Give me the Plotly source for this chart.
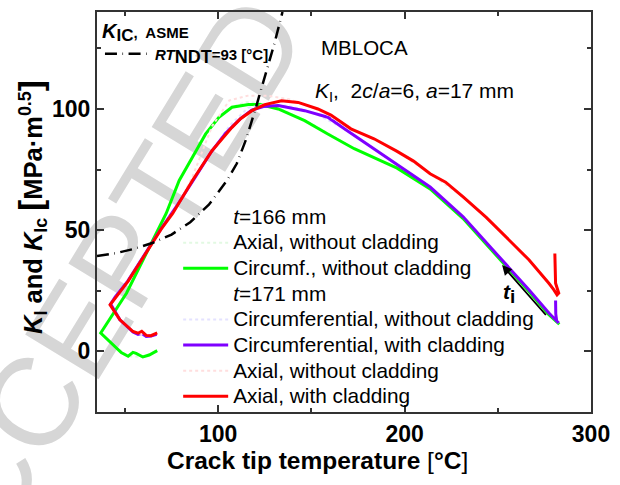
import plotly.graph_objects as go

# Crack tip temperature [°C] and stress intensity K_I [MPa·m^0.5] along each transient path
circ_wo_166_T = [283.0, 277.4, 266.8, 249.1, 231.4, 213.7, 196.0, 188.9, 173.0, 158.8, 146.4, 132.2,
                 122.5, 116.3, 107.4, 100.4, 93.3, 86.2, 79.1, 72.1, 63.2, 50.8, 37.0,
                 43.7, 48.0, 51.7, 54.3, 56.0, 59.6, 63.0, 67.3]
circ_wo_166_K = [11.2, 15.1, 24.6, 39.7, 54.8, 67.0, 75.6, 78.1, 83.6, 89.7, 95.2, 100.0,
                 101.8, 101.8, 100.7, 96.6, 89.7, 80.1, 70.5, 56.9, 43.1, 24.0, 7.6,
                 2.7, -0.5, -2.0, -0.4, -0.8, -2.3, -1.5, 0.3]

axial_wo_166_T = [283.0, 266.8, 249.1, 231.4, 213.7, 196.0, 173.0, 150.0, 132.0, 122.5, 115.0, 108.0,
                  100.4, 93.3, 86.2, 79.1, 72.1, 63.2, 50.8, 37.0, 43.7, 51.7, 59.6, 67.3]
axial_wo_166_K = [11.2, 24.6, 39.7, 54.8, 67.0, 75.6, 83.6, 94.0, 100.6, 102.6, 102.8, 101.0,
                  96.6, 89.7, 80.1, 70.5, 56.9, 43.1, 24.0, 7.6, 2.7, -2.0, -2.3, 0.3]

circ_wo_171_T = [282.7, 266.8, 249.1, 231.4, 213.7, 196.0, 181.8, 167.7, 152.0, 138.0, 126.0, 116.0,
                 106.0, 96.0, 87.0, 78.2, 69.2, 60.3, 51.5, 44.8, 42.3, 47.3, 54.3, 61.4, 67.0]
circ_wo_171_K = [11.7, 25.3, 40.4, 55.5, 67.8, 77.0, 84.2, 91.8, 98.2, 101.2, 102.0, 100.5,
                 93.0, 82.0, 71.0, 60.5, 50.4, 39.7, 29.0, 22.5, 19.5, 13.0, 8.0, 6.2, 7.0]

circ_w_171_T = [281.0, 281.1, 281.6, 282.7, 277.4, 266.8, 249.1, 231.4, 213.7, 196.0, 181.8, 167.7,
                158.8, 146.4, 132.2, 124.3, 118.0, 112.0, 104.0, 96.0, 87.0, 78.2, 69.2, 60.3,
                51.5, 44.8, 42.3, 47.3, 54.3, 57.0, 59.0, 61.4, 64.0, 67.0]
circ_w_171_K = [21.0, 15.5, 12.5, 11.7, 15.8, 25.3, 40.4, 55.5, 67.8, 77.0, 84.2, 91.8,
                96.6, 99.3, 101.4, 101.0, 99.5, 96.0, 90.0, 82.0, 71.0, 60.5, 50.4, 39.7,
                29.0, 22.5, 19.5, 13.0, 8.0, 7.0, 7.5, 6.2, 6.3, 7.0]

axial_wo_171_T = [282.5, 266.8, 249.1, 231.4, 213.7, 196.0, 183.6, 171.2, 153.5, 138.0, 126.0, 116.0,
                  106.0, 96.8, 86.2, 78.4, 69.4, 60.5, 51.7, 45.0, 42.0, 47.3, 54.3, 61.4, 67.3]
axial_wo_171_K = [23.5, 37.7, 51.4, 63.7, 73.3, 82.5, 87.7, 91.8, 100.0, 104.0, 105.5, 105.5,
                  103.5, 93.0, 72.0, 60.2, 50.4, 39.7, 29.0, 22.2, 19.2, 13.0, 8.2, 6.6, 7.6]

axial_w_171_T = [280.6, 280.8, 281.0, 282.7, 281.8, 280.0, 277.4, 266.8, 257.9, 249.1, 243.8, 231.4,
                 222.0, 213.7, 204.8, 196.0, 183.6, 171.2, 165.0, 160.5, 153.5, 142.9, 134.0, 125.0,
                 118.1, 112.0, 107.4, 96.8, 86.2, 78.4, 75.6, 69.4, 64.5, 60.5, 51.7, 45.0, 42.0,
                 47.3, 54.3, 57.0, 59.0, 61.4, 64.0, 67.3]
axial_w_171_K = [40.4, 33.0, 28.1, 24.0, 23.3, 25.5, 28.1, 37.7, 44.6, 51.4, 55.3, 63.7,
                 69.8, 73.3, 78.5, 82.5, 87.7, 91.8, 95.0, 97.5, 100.0, 102.7, 103.4, 101.8,
                 99.3, 96.0, 92.4, 82.9, 70.5, 60.2, 56.9, 50.4, 44.6, 39.7, 29.0, 22.2, 19.2,
                 13.0, 8.2, 7.5, 8.3, 6.6, 6.5, 7.6]

# ASME fracture toughness curve K_Ic for RT_NDT = 93 °C
asme_T = [35, 45, 55, 65, 75, 85, 95, 105, 110, 115, 120, 125, 130, 134.5]
asme_K = [39.3, 40.5, 42.3, 44.8, 48.2, 53.3, 60.5, 70.8, 77.5, 87.5, 100.0, 113.0, 126.5, 140.0]

x_ticks = [100, 200, 300]
y_ticks = [0, 50, 100]

FONT = "Arial, Liberation Sans, sans-serif"
AX = "#333333"
ENTRY = "<span style='font-size:20.8px'>{}</span>"

fig = go.Figure()


def header(name):
    fig.add_trace(go.Scatter(x=[None], y=[None], mode="lines", name=ENTRY.format(name),
                             line=dict(width=0, color="rgba(0,0,0,0)"), hoverinfo="skip"))


header("<i>t</i>=166 mm")
fig.add_trace(go.Scatter(x=axial_wo_166_T, y=axial_wo_166_K, mode="lines",
                         name=ENTRY.format("Axial, without cladding"),
                         line=dict(color="#e2f9e2", width=2, dash="dot")))
fig.add_trace(go.Scatter(x=circ_wo_166_T, y=circ_wo_166_K, mode="lines",
                         name=ENTRY.format("Circumf., without cladding"),
                         line=dict(color="#00ff00", width=3)))
header("<i>t</i>=171 mm")
fig.add_trace(go.Scatter(x=circ_wo_171_T, y=circ_wo_171_K, mode="lines",
                         name=ENTRY.format("Circumferential, without cladding"),
                         line=dict(color="#e4e2ff", width=2, dash="dot")))
fig.add_trace(go.Scatter(x=circ_w_171_T, y=circ_w_171_K, mode="lines",
                         name=ENTRY.format("Circumferential, with cladding"),
                         line=dict(color="#7f00ff", width=3)))
fig.add_trace(go.Scatter(x=axial_wo_171_T, y=axial_wo_171_K, mode="lines",
                         name=ENTRY.format("Axial, without cladding"),
                         line=dict(color="#ffdede", width=2, dash="dot")))
fig.add_trace(go.Scatter(x=axial_w_171_T, y=axial_w_171_K, mode="lines",
                         name=ENTRY.format("Axial, with cladding"),
                         line=dict(color="#ff0000", width=3)))
fig.add_trace(go.Scatter(x=asme_T, y=asme_K, mode="lines", legend="legend2",
                         name="<b><i>RT</i><sub><span style='font-size:18px'>NDT</span></sub>=93 [°C]</b>",
                         line=dict(color="#000000", width=2.5, dash="12px,5.5px,0.6px,5.5px")))

axis_common = dict(showline=True, linecolor=AX, linewidth=2, mirror="ticks",
                   ticks="inside", ticklen=7, tickwidth=1.5, tickcolor=AX,
                   showgrid=False, zeroline=False,
                   tickfont=dict(family=FONT, size=23, color="#000", weight="bold"))

fig.update_xaxes(range=[35, 300], tickvals=x_ticks, ticktext=[str(v) for v in x_ticks],
                 minor=dict(dtick=50, tick0=0, ticks="inside", ticklen=4, tickwidth=1.5, tickcolor=AX),
                 **axis_common)
fig.update_yaxes(range=[-25, 140], tickvals=y_ticks, ticktext=[str(v) for v in y_ticks],
                 minor=dict(dtick=25, tick0=0, ticks="inside", ticklen=4, tickwidth=1.5, tickcolor=AX),
                 **axis_common)

annotations = [
    dict(text="<b>Crack tip temperature <span style='font-weight:normal'>[</span>°C"
              "<span style='font-weight:normal'>]</span></b>", xref="paper", yref="paper",
         x=0.447, y=-0.121, xanchor="center", yanchor="middle", showarrow=False,
         font=dict(family=FONT, size=24.5, color="#000")),
    dict(text="<b><i>K</i><sub>I</sub> and <i>K</i><sub>Ic</sub> "
              "<span style='font-size:33px'>[</span>MPa·m<sup>0.5</sup>"
              "<span style='font-size:33px'>]</span></b>",
         xref="paper", yref="paper", x=-0.134, y=0.512, xanchor="center", yanchor="middle",
         textangle=-90, showarrow=False, font=dict(family=FONT, size=25.5, color="#000")),
    dict(text="MBLOCA", xref="paper", yref="paper", x=0.5405, y=0.9117,
         xanchor="center", yanchor="middle", showarrow=False,
         font=dict(family=FONT, size=20.5, color="#000")),
    dict(text="<i>K</i><sub>I</sub>,  2<i>c</i>/<i>a</i>=6, <i>a</i>=17 mm",
         xref="paper", yref="paper", x=0.4369, y=0.801, xanchor="left", yanchor="middle",
         showarrow=False, font=dict(family=FONT, size=21, color="#000")),
    dict(text="", x=252.3, y=35.6, ax=276.5, ay=14.4, axref="x", ayref="y",
         showarrow=True, arrowhead=2, arrowsize=1.1, arrowwidth=1.8, arrowcolor="#000"),
    dict(text="<b><i>t</i><sub><span style='font-size:19px'>i</span></sub></b>", x=256.1, y=24,
         showarrow=False, font=dict(family=FONT, size=21, color="#000")),
]

fig.update_layout(
    width=620, height=485,
    margin=dict(l=97, r=24, t=10, b=73),
    paper_bgcolor="white", plot_bgcolor="white",
    font=dict(family=FONT, color="#000"),
    showlegend=True,
    legend=dict(x=0.1643, y=0.532, xanchor="left", yanchor="top",
                bgcolor="rgba(0,0,0,0)", borderwidth=0, traceorder="normal",
                font=dict(family=FONT, size=17.4, color="#000"), itemwidth=45),
    legend2=dict(x=0.006, y=0.985, xanchor="left", yanchor="top",
                 bgcolor="rgba(0,0,0,0)", borderwidth=0,
                 title=dict(text="<b><i><span style='font-size:20px'>K</span></i>"
                                 "<sub><span style='font-size:17px'>IC</span></sub>,  ASME</b>",
                            font=dict(family=FONT, size=15, color="#000")),
                 font=dict(family=FONT, size=15, color="#000"), itemwidth=45),
    annotations=annotations,
    shapes=[dict(type="rect", xref="paper", yref="paper", x0=0.426, x1=0.436, y0=1.204, y1=1.224,
                 line=dict(width=0), fillcolor="rgba(0,0,0,0)", layer="below",
                 label=dict(text="ACCEPTED MANUSCRIPT", textangle=-58.6,
                            textposition="middle center",
                            font=dict(family=FONT, size=125, color="#d6d6d6")))],
)

fig.write_html("out.html")
